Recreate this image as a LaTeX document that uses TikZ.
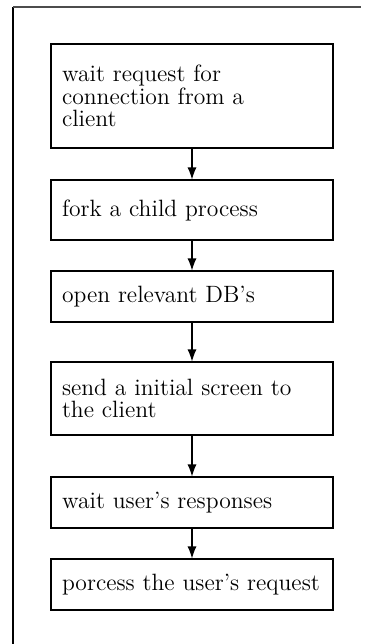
\documentclass[tikz,border=0pt]{standalone}
\usetikzlibrary{arrows.meta}
\begin{document}
\begin{tikzpicture}[x=1pt,y=1pt,>={Latex[length=6pt,width=4.5pt]},
  stage/.style={draw,line width=0.55pt,text width=130pt,align=left,inner xsep=5.5pt,inner ysep=0pt,font=\fontsize{11.8}{11.4}\selectfont},
  flow/.style={->,line width=0.55pt}]
\useasboundingbox (0,0) rectangle (182.5,-322);
% frame
\draw[line width=0.8pt] (6.5,-322) -- (6.5,-3.5);
\draw[line width=0.8pt,black!70] (6.5,-3.5) -- (180.5,-3.5);
% steps
\node[stage,minimum height=52pt] (wait) at (96,-48) {wait request for\\connection from a\\client};
\node[stage,minimum height=30pt] (fork) at (96,-105) {fork a child process};
\node[stage,minimum height=25.5pt] (opendb) at (96,-148.25) {open relevant DB's};
\node[stage,minimum height=36.5pt] (send) at (96,-199.25) {send a initial screen to\\the client};
\node[stage,minimum height=25.5pt] (resp) at (96,-251.25) {wait user's responses};
\node[stage,minimum height=25.5pt] (proc) at (96,-292.25) {porcess the user's request};
% arrows
\draw[flow] (wait) -- (fork);
\draw[flow] (fork) -- (opendb);
\draw[flow] (opendb) -- (send);
\draw[flow] (send) -- (resp);
\draw[flow] (resp) -- (proc);
\end{tikzpicture}
\end{document}
